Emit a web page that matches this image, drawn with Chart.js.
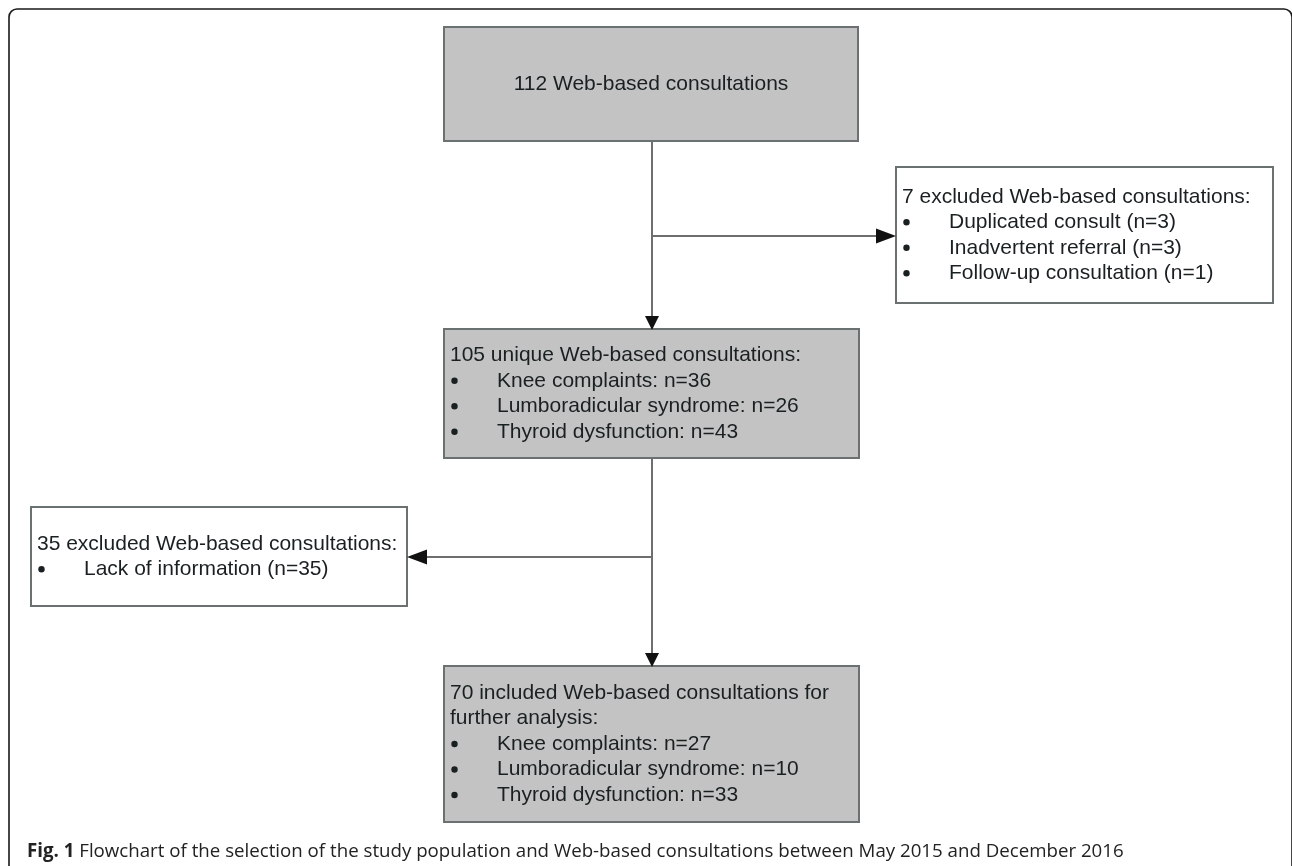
<!DOCTYPE html>
<html>
<head>
<meta charset="utf-8">
<script src="https://cdn.jsdelivr.net/npm/chart.js@4/dist/chart.umd.min.js"></script>
<style>
  html, body { margin: 0; padding: 0; background: #ffffff; }
  #wrap { width: 1292px; height: 866px; }
</style>
</head>
<body>
<div id="wrap"><canvas id="c" width="1292" height="866"></canvas></div>
<script>
// ---------------- DATA ----------------
const totalConsultations = 112;
const exclusionReasons1 = ['Duplicated consult', 'Inadvertent referral', 'Follow-up consultation'];
const exclusionCounts1 = [3, 3, 1];
const conditions = ['Knee complaints', 'Lumboradicular syndrome', 'Thyroid dysfunction'];
const uniqueCounts = [36, 26, 43];
const exclusionReasons2 = ['Lack of information'];
const exclusionCounts2 = [35];
const includedCounts = [27, 10, 33];
const captionLabel = 'Fig. 1';
const captionText = ' Flowchart of the selection of the study population and Web-based consultations between May 2015 and December 2016';

const sum = a => a.reduce((s, v) => s + v, 0);

// ---------------- LAYOUT (scale units = pixels) ----------------
const W = 1292, H = 866;
const boxes = [
  { id: 'start', x0: 444, x1: 858, y0: 27, y1: 141, fill: '#c3c3c3', align: 'center',
    title: [`${totalConsultations} Web-based consultations`], bullets: [] },
  { id: 'excl1', x0: 896, x1: 1273, y0: 167, y1: 303, fill: '#ffffff', align: 'left',
    title: [`${sum(exclusionCounts1)} excluded Web-based consultations:`],
    bullets: exclusionReasons1.map((r, i) => `${r} (n=${exclusionCounts1[i]})`) },
  { id: 'unique', x0: 444, x1: 859, y0: 329, y1: 458, fill: '#c3c3c3', align: 'left',
    title: [`${sum(uniqueCounts)} unique Web-based consultations:`],
    bullets: conditions.map((c, i) => `${c}: n=${uniqueCounts[i]}`) },
  { id: 'excl2', x0: 31, x1: 407, y0: 507, y1: 606, fill: '#ffffff', align: 'left',
    title: [`${sum(exclusionCounts2)} excluded Web-based consultations:`],
    bullets: exclusionReasons2.map((r, i) => `${r} (n=${exclusionCounts2[i]})`) },
  { id: 'included', x0: 444, x1: 859, y0: 666, y1: 822, fill: '#c3c3c3', align: 'left', wrap: true,
    title: [`${sum(includedCounts)} included Web-based consultations for further analysis:`],
    bullets: conditions.map((c, i) => `${c}: n=${includedCounts[i]}`) }
];
const connectors = [
  { pts: [[652, 141], [652, 316]], head: 'down' },
  { pts: [[652, 236], [877, 236]], head: 'right' },
  { pts: [[652, 458], [652, 653]], head: 'down' },
  { pts: [[652, 557], [426, 557]], head: 'left' }
];

const BOX_FONT = '21px "Liberation Sans", Arial, sans-serif';
const LINE_H = 25.5;
const TEXT_COLOR = '#1a2022';

function wrapLine(ctx, text, maxW) {
  const words = text.split(' ');
  const out = [];
  let cur = '';
  for (const w of words) {
    const t = cur ? cur + ' ' + w : w;
    if (ctx.measureText(t).width > maxW && cur) { out.push(cur); cur = w; }
    else cur = t;
  }
  if (cur) out.push(cur);
  return out;
}

const flowPlugin = {
  id: 'flow',
  beforeDatasetsDraw(chart) {
    const ctx = chart.ctx, xs = chart.scales.x, ys = chart.scales.y;
    const px = v => xs.getPixelForValue(v), py = v => ys.getPixelForValue(v);
    ctx.save();
    ctx.strokeStyle = '#1a1a1a';
    ctx.lineWidth = 1.6;
    const r = 8;
    ctx.beginPath();
    ctx.moveTo(px(9), py(H + 10));
    ctx.lineTo(px(9), py(9 + r));
    ctx.arcTo(px(9), py(9), px(9 + r), py(9), r);
    ctx.lineTo(px(1284), py(9));
    ctx.arcTo(px(1292), py(9), px(1292), py(9 + r), r);
    ctx.lineTo(px(1292), py(H + 10));
    ctx.stroke();
    ctx.restore();
  },
  afterDatasetsDraw(chart) {
    const ctx = chart.ctx, xs = chart.scales.x, ys = chart.scales.y;
    const px = v => xs.getPixelForValue(v), py = v => ys.getPixelForValue(v);
    ctx.save();
    for (const b of boxes) {
      const x0 = px(b.x0), x1 = px(b.x1), y0 = py(b.y0), y1 = py(b.y1);
      ctx.fillStyle = b.fill;
      ctx.fillRect(x0, y0, x1 - x0, y1 - y0);
      ctx.strokeStyle = '#6b7070';
      ctx.lineWidth = 2;
      ctx.strokeRect(x0, y0, x1 - x0, y1 - y0);
      ctx.font = BOX_FONT;
      ctx.fillStyle = TEXT_COLOR;
      ctx.textBaseline = 'middle';
      let titleLines = [];
      for (const t of b.title) {
        titleLines = titleLines.concat(b.wrap ? wrapLine(ctx, t, (x1 - x0) - 14) : [t]);
      }
      const n = titleLines.length + b.bullets.length;
      const cy = (y0 + y1) / 2;
      let y = cy - (n - 1) * LINE_H / 2;
      for (const t of titleLines) {
        if (b.align === 'center') { ctx.textAlign = 'center'; ctx.fillText(t, (x0 + x1) / 2, y); }
        else { ctx.textAlign = 'left'; ctx.fillText(t, x0 + 6, y); }
        y += LINE_H;
      }
      ctx.textAlign = 'left';
      for (const t of b.bullets) {
        ctx.beginPath();
        ctx.arc(x0 + 10.5, y, 3.2, 0, Math.PI * 2);
        ctx.fill();
        ctx.fillText(t, x0 + 53, y);
        y += LINE_H;
      }
    }
    ctx.fillStyle = '#111111';
    for (const c of connectors) {
      const [ex, ey] = c.pts[c.pts.length - 1];
      const X = px(ex), Y = py(ey);
      ctx.beginPath();
      if (c.head === 'down') {
        ctx.moveTo(X - 7, Y); ctx.lineTo(X + 7, Y); ctx.lineTo(X, Y + 14);
      } else if (c.head === 'right') {
        ctx.moveTo(X - 1, Y - 7.5); ctx.lineTo(X - 1, Y + 7.5); ctx.lineTo(X + 19, Y);
      } else {
        ctx.moveTo(X + 1, Y - 7.5); ctx.lineTo(X + 1, Y + 7.5); ctx.lineTo(X - 19, Y);
      }
      ctx.closePath();
      ctx.fill();
    }
    ctx.textBaseline = 'middle';
    ctx.textAlign = 'left';
    ctx.fillStyle = '#222222';
    ctx.font = 'bold 18.7px "Open Sans", sans-serif';
    const cx = px(27), cyy = py(852);
    ctx.fillText(captionLabel, cx, cyy);
    const wb = ctx.measureText(captionLabel).width;
    ctx.font = '18.7px "Open Sans", sans-serif';
    ctx.fillText(captionText, cx + wb, cyy);
    ctx.restore();
  }
};

new Chart(document.getElementById('c'), {
  type: 'scatter',
  data: {
    datasets: connectors.map((c, i) => ({
      label: 'connector ' + (i + 1),
      data: c.pts.map(p => ({ x: p[0], y: p[1] })),
      showLine: true,
      borderColor: '#6e6e6e',
      borderWidth: 2,
      pointRadius: 0,
      fill: false
    }))
  },
  options: {
    responsive: false,
    animation: false,
    layout: { padding: 0 },
    plugins: { legend: { display: false }, tooltip: { enabled: false }, title: { display: false } },
    scales: {
      x: { type: 'linear', min: 0, max: W, display: false },
      y: { type: 'linear', min: 0, max: H, reverse: true, display: false }
    }
  },
  plugins: [flowPlugin]
});
</script>
</body>
</html>
